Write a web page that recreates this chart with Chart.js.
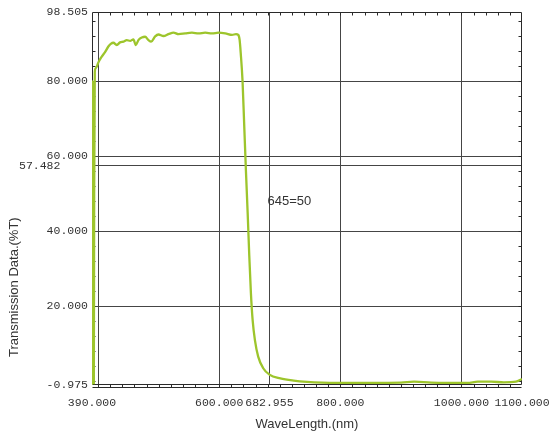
<!DOCTYPE html>
<html>
<head>
<meta charset="utf-8">
<script src="https://cdn.jsdelivr.net/npm/chart.js@4.4.1/dist/chart.umd.min.js"></script>
<style>
  html, body { margin: 0; padding: 0; background: #ffffff; }
  #wrap { width: 556px; height: 435px; position: relative; }
</style>
</head>
<body>
<div id="wrap"><canvas id="c"></canvas></div>
<script>
// ---- data ----
const wavelength = [
  390.0, 390.7, 391.6, 392.4, 393.0, 393.6, 394.6, 396.0, 398.0, 400.4,
  403.0, 406.1, 411.5, 417.0, 421.0, 425.3, 430.9, 436.3, 441.8, 447.4,
  452.9, 458.4, 462.3, 466.6, 472.3, 477.7, 483.2, 487.6, 494.3, 499.7,
  508.0, 516.3, 524.6, 532.8, 543.9, 555.0, 565.9, 577.0, 588.1, 599.0,
  610.1, 621.2, 627.8, 631.5, 633.8, 635.6, 638.6, 641.4, 644.2, 647.0,
  649.7, 652.4, 655.2, 659.0, 664.4, 672.7, 683.0, 701.0, 723.0,
  745.0, 770.0, 800.0, 850.0, 900.0, 921.8, 950.0, 980.0, 1010.0, 1027.0,
  1049.0, 1070.0, 1090.0, 1100.0
];
const transmission = [
  -0.9, 80.0, 79.0, 20.0, -0.5, 50.0, 82.5, 83.5, 84.0, 85.0,
  85.8, 86.6, 87.8, 89.3, 90.0, 90.3, 89.7, 90.4, 90.6, 91.0,
  90.8, 91.2, 89.7, 91.0, 91.7, 91.9, 91.0, 90.6, 92.0, 92.5,
  92.1, 92.6, 93.0, 92.6, 92.8, 93.0, 92.8, 93.0, 92.8, 93.0,
  92.8, 92.4, 92.6, 92.4, 91.0, 87.5, 80.0, 68.0, 56.0, 45.0,
  33.5, 23.5, 16.4, 11.0, 6.6, 3.5, 1.8, 0.8, 0.2,
  -0.15, -0.35, -0.4, -0.4, -0.35, -0.1, -0.35, -0.4, -0.4, -0.1,
  -0.1, -0.25, -0.1, 0.6
];
const xTickValues = [390, 600, 682.955, 800, 1000, 1100];
const xGridValues = [400, 600, 682.955, 800, 1000];
const yTickValues = [-0.975, 20, 40, 57.482, 60, 80, 98.505];
const yGridValues = [20, 40, 57.482, 60, 80];
const yShiftedLabel = 57.482;
const xTitle = 'WaveLength.(nm)';
const yTitle = 'Transmission Data.(%T)';
const note = { text: '645=50', x: 716, y: 48.1 };

const X_MIN = 390, X_MAX = 1100, Y_MIN = -0.975, Y_MAX = 98.505;
const TICK_FONT = { family: 'Liberation Mono', size: 11.5 };
const TEXT_COLOR = '#333333';
const GRID_COLOR = '#454545';
const FRAME_COLOR = '#2a2a2a';

const points = wavelength.map((w, i) => ({ x: w, y: transmission[i] }));
const fmt = v => v.toFixed(3);

const framePlugin = {
  id: 'frame',
  beforeDatasetsDraw(chart) {
    const { ctx, chartArea: a, scales } = chart;
    const xs = scales.x, ys = scales.y;
    ctx.save();
    ctx.strokeStyle = FRAME_COLOR;
    ctx.lineWidth = 1;
    const L = Math.round(a.left) + 0.5, R = Math.round(a.right) - 0.5;
    const T = Math.round(a.top) + 0.5, B = Math.round(a.bottom) - 0.5;
    ctx.beginPath();
    ctx.rect(L, T, R - L, B - T);
    ctx.moveTo(L, B + 3);
    ctx.lineTo(R, B + 3);
    ctx.stroke();
    ctx.beginPath();
    for (let w = 400; w < X_MAX; w += 20) {
      const px = Math.round(xs.getPixelForValue(w)) + 0.5;
      ctx.moveTo(px, T); ctx.lineTo(px, T + 3);
      ctx.moveTo(px, B); ctx.lineTo(px, B + 3);
    }
    for (let v = 0; v < Y_MAX; v += 4) {
      const py = Math.round(ys.getPixelForValue(v)) + 0.5;
      ctx.moveTo(L, py); ctx.lineTo(L + 3, py);
      ctx.moveTo(R, py); ctx.lineTo(R - 3, py);
    }
    ctx.stroke();
    ctx.restore();
  },
  afterDraw(chart) {
    const { ctx, scales } = chart;
    ctx.save();
    ctx.fillStyle = TEXT_COLOR;
    ctx.font = '13px "Liberation Sans", Arial, sans-serif';
    ctx.translate(14, 357);
    ctx.rotate(-Math.PI / 2);
    ctx.textAlign = 'left';
    ctx.textBaseline = 'middle';
    ctx.fillText(yTitle, 0, 0);
    ctx.restore();
    ctx.save();
    ctx.fillStyle = TEXT_COLOR;
    ctx.font = '13px "Liberation Sans", Arial, sans-serif';
    ctx.textAlign = 'center';
    ctx.textBaseline = 'middle';
    ctx.fillText(note.text, scales.x.getPixelForValue(note.x), scales.y.getPixelForValue(note.y));
    ctx.restore();
  }
};

new Chart(document.getElementById('c'), {
  type: 'line',
  data: {
    datasets: [{
      data: points,
      borderColor: '#9dc52c',
      borderWidth: 2.3,
      pointRadius: 0,
      cubicInterpolationMode: 'monotone',
      fill: false
    }]
  },
  options: {
    responsive: true,
    maintainAspectRatio: false,
    animation: false,
    layout: { padding: { top: 12, right: 34, left: 0, bottom: 0 } },
    plugins: { legend: { display: false }, tooltip: { enabled: false } },
    scales: {
      x: {
        type: 'linear',
        min: X_MIN, max: X_MAX,
        afterFit(s) { s.height = 50; s.paddingLeft = 0; s.paddingRight = 0; },
        afterBuildTicks(s) {
          const all = [...new Set([...xTickValues, ...xGridValues])].sort((p, q) => p - q);
          s.ticks = all.map(v => ({ value: v }));
        },
        ticks: {
          autoSkip: false, maxRotation: 0, minRotation: 0,
          padding: 11, color: TEXT_COLOR, font: TICK_FONT,
          callback: v => xTickValues.includes(v) ? fmt(v) : ''
        },
        grid: {
          drawTicks: false,
          color: c => (c.tick && xGridValues.includes(c.tick.value)) ? GRID_COLOR : 'rgba(0,0,0,0)',
          lineWidth: 1
        },
        border: { display: false },
        title: {
          display: true, text: xTitle, color: TEXT_COLOR,
          font: { family: 'Liberation Sans', size: 13 },
          padding: { top: 0, bottom: 3 }
        }
      },
      y: {
        type: 'linear',
        min: Y_MIN, max: Y_MAX,
        afterFit(s) { s.width = 92; s.paddingTop = 0; s.paddingBottom = 0; },
        afterBuildTicks(s) { s.ticks = yTickValues.map(v => ({ value: v })); },
        ticks: {
          autoSkip: false, padding: 4, color: TEXT_COLOR, font: TICK_FONT,
          callback: v => v === yShiftedLabel ? fmt(v) + '    ' : fmt(v)
        },
        grid: {
          drawTicks: false,
          color: c => (c.tick && yGridValues.includes(c.tick.value)) ? GRID_COLOR : 'rgba(0,0,0,0)',
          lineWidth: 1
        },
        border: { display: false },
        title: { display: false }
      }
    }
  },
  plugins: [framePlugin]
});
</script>
</body>
</html>
